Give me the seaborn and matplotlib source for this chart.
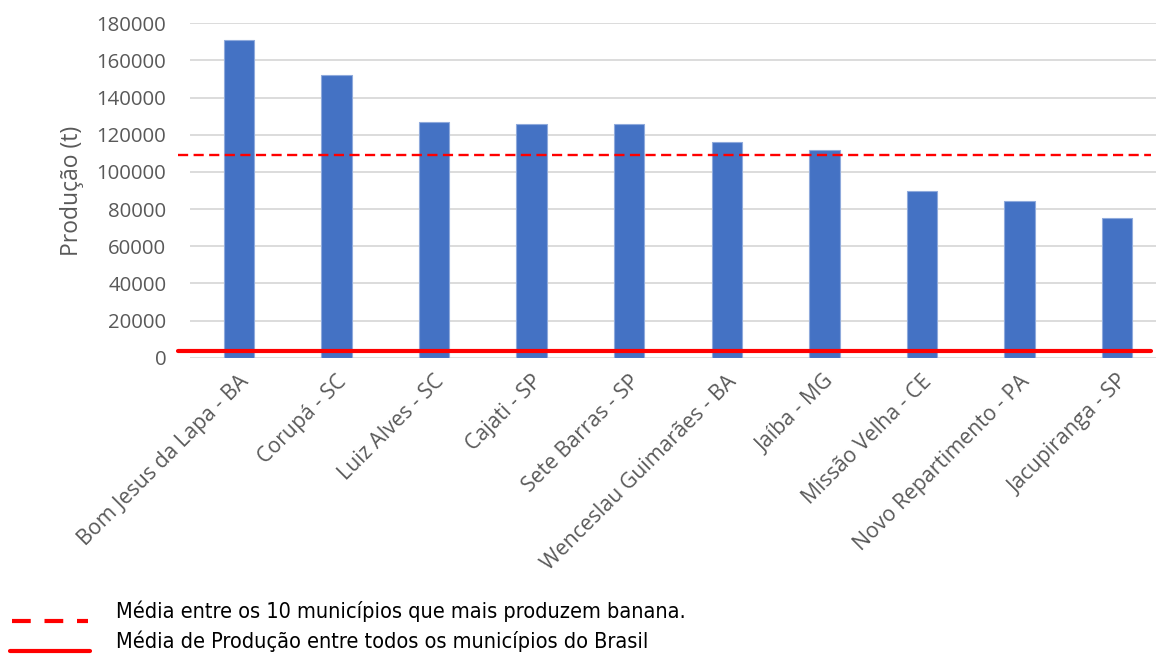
import matplotlib
matplotlib.use("Agg")
import matplotlib.pyplot as plt
import matplotlib.transforms as mtransforms
import seaborn as sns
import pandas as pd
from matplotlib.lines import Line2D

# Banana production of the ten largest producing municipalities (tonnes)
municipios = [
    "Bom Jesus da Lapa - BA", "Corupá - SC", "Luiz Alves - SC", "Cajati - SP",
    "Sete Barras - SP", "Wenceslau Guimarães - BA", "Jaíba - MG",
    "Missão Velha - CE", "Novo Repartimento - PA", "Jacupiranga - SP",
]
producao = [171000, 152000, 127000, 126000, 125800, 116000, 112000, 89700, 84500, 75100]

media_top10 = 109200      # average among the ten largest producers
media_brasil = 3500       # average among all Brazilian municipalities

y_ticks = [0, 20000, 40000, 60000, 80000, 100000, 120000, 140000, 160000, 180000]

legenda = [
    "Média entre os 10 municípios que mais produzem banana.",
    "Média de Produção entre todos os municípios do Brasil",
]

df = pd.DataFrame({"municipio": municipios, "producao": producao})

sns.set_theme(style="white")
plt.rcParams["font.family"] = ["Open Sans", "DejaVu Sans"]

W, H = 1156, 656
fig = plt.figure(figsize=(W / 100, H / 100), dpi=100)
ax_left, ax_right = 190, 1156
ax_top, ax_bottom = 23.3, 357.7
ax = fig.add_axes([ax_left / W, 1 - ax_bottom / H,
                   (ax_right - ax_left) / W, (ax_bottom - ax_top) / H])

sns.barplot(data=df, x="municipio", y="producao", color="#4472C4",
            width=0.31, saturation=1, edgecolor="#8FAADC", linewidth=0.8,
            ax=ax, zorder=2)

cat_px = 97.6
ax.set_xlim(-0.5, -0.5 + (ax_right - ax_left) / cat_px)
ax.set_ylim(0, 180000)
ax.set_yticks(y_ticks)
ax.set_yticklabels([str(v) for v in y_ticks])
ax.yaxis.grid(True, color="#D9D9D9", linewidth=1.3, zorder=0)
ax.set_axisbelow(True)
for s in ax.spines.values():
    s.set_visible(False)

ax.tick_params(axis="y", length=0, pad=17, labelsize=14.7, labelcolor="#595959")
ax.tick_params(axis="x", length=0, pad=12, labelsize=15.3, labelcolor="#595959")
plt.setp(ax.get_xticklabels(), rotation=45, ha="right", va="center",
         rotation_mode="anchor")
shift = mtransforms.ScaledTranslation(7 / 100, -4 / 100, fig.dpi_scale_trans)
for lbl in ax.get_xticklabels():
    lbl.set_transform(lbl.get_transform() + shift)

ax.set_xlabel("")
ax.set_ylabel("Produção (t)", fontsize=16.5, color="#595959", labelpad=9)

# reference lines, reaching slightly past the plot's left edge
span = ax_right - ax_left
xmin = (178 - ax_left) / span
xmax = (1151 - ax_left) / span
ax.axhline(media_top10, xmin=xmin, xmax=xmax, color="#FF0000", linewidth=1.7,
           linestyle=(0, (4.3, 2.3)), clip_on=False, zorder=3)
ax.axhline(media_brasil, xmin=xmin, xmax=xmax, color="#FF0000", linewidth=3.0,
           clip_on=False, zorder=3)

# legend drawn beneath the chart
def fx(px):
    return px / W

def fy(py):
    return 1 - py / H

fig.add_artist(Line2D([fx(12), fx(88)], [fy(621), fy(621)], color="#FF0000",
                      linewidth=3, linestyle=(0, (4.5, 3.3)), transform=fig.transFigure))
fig.add_artist(Line2D([fx(10), fx(90)], [fy(651), fy(651)], color="#FF0000",
                      linewidth=3, transform=fig.transFigure))
leg_font = dict(fontsize=15.6, color="#000000", fontstretch="condensed",
                family=["DejaVu Sans", "Liberation Sans"], ha="left", va="center")
fig.text(fx(116), fy(611), legenda[0], **leg_font)
fig.text(fx(116), fy(641), legenda[1], **leg_font)

fig.savefig("out.png", dpi=100)
